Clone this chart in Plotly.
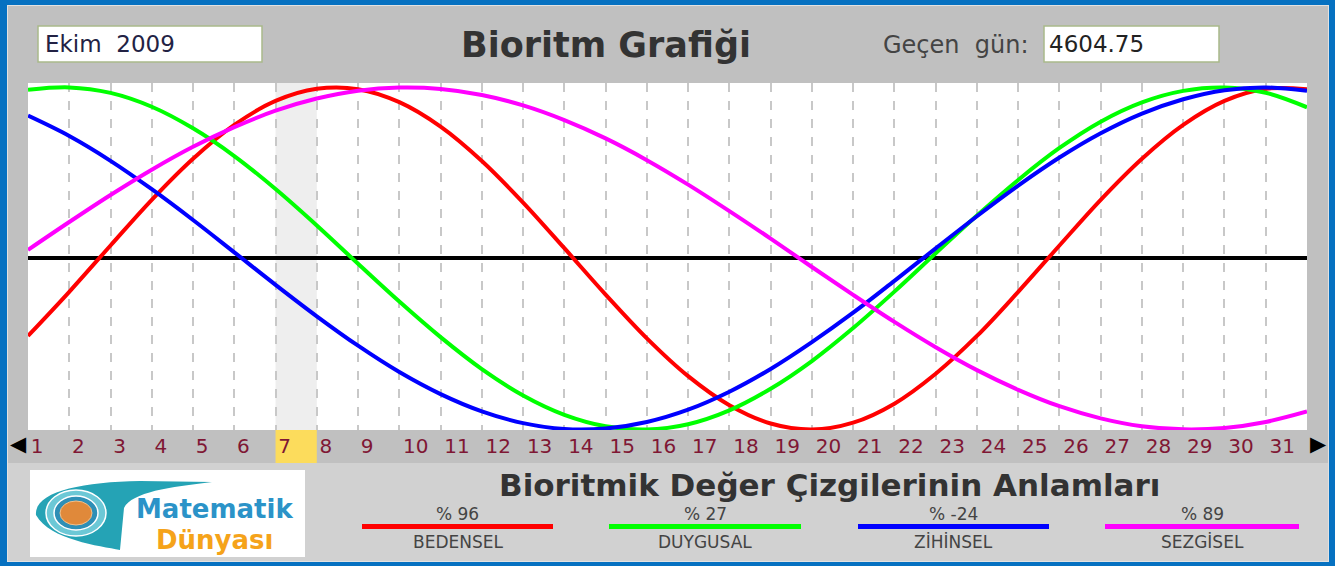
import plotly.graph_objects as go

# ---------------- data ----------------
MONTH_LABEL = "Ekim 2009"
ELAPSED_DAYS = "4604.75"
HIGHLIGHT_DAY = 7
DAY_LABELS = [str(d) for d in range(1, 32)]
# sample positions (day boundaries, 0 = start of day 1)
SAMPLE_POS = list(range(32))

BEDENSEL = [-45.3, -19.5, 7.6, 34.3, 58.3, 78.1, 92.1, 99.2, 99.0, 91.4, 77.1, 57.0,
            32.7, 6.0, -21.1, -46.7, -68.8, -85.8, -96.5, -100.0, -96.0, -84.9, -67.4,
            -45.3, -19.5, 7.6, 34.3, 58.3, 78.1, 92.1, 99.2, 99.0]
DUYGUSAL = [98.6, 100.0, 96.8, 88.7, 76.1, 59.9, 40.6, 19.3, -3.1, -25.2, -46.0, -64.7,
            -80.1, -91.4, -98.1, -100.0, -96.9, -88.8, -76.2, -60.0, -40.7, -19.4, 3.0,
            25.1, 45.9, 64.6, 80.0, 91.3, 98.0, 100.0, 96.9, 88.4]
ZIHINSEL = [83.5, 71.6, 57.1, 40.5, 22.5, 3.6, -15.4, -33.8, -51.0, -66.4, -79.3, -89.4,
            -96.3, -99.7, -99.4, -95.6, -88.4, -77.9, -64.6, -48.9, -31.7, -13.1, 5.9,
            24.7, 42.6, 59.0, 73.2, 84.7, 93.1, 98.4, 100.0, 98.0]
SEZGISEL = [5.0, 21.3, 37.1, 51.9, 65.3, 76.8, 86.4, 93.5, 98.1, 99.9, 99.1, 95.6,
            89.5, 80.9, 70.2, 57.5, 43.2, 27.7, 11.6, -5.0, -21.3, -37.1, -51.9, -65.3,
            -76.8, -86.4, -93.5, -98.1, -99.9, -99.1, -95.6, -89.5]

SERIES_NAMES = ["BEDENSEL", "DUYGUSAL", "ZİHİNSEL", "SEZGİSEL"]
SERIES_PCT = ["% 96", "% 27", "% -24", "% 89"]
SERIES_COLORS = ["#ff0000", "#00ff00", "#0000ff", "#ff00ff"]

# ---------------- geometry helpers ----------------
W, H = 1335, 566
L, R, T, B = 28, 1307, 83, 430
PW, PH = R - L, B - T


def px(x):
    return (x - L) / PW


def py(y):
    return (B - y) / PH


def rect(x0, y0, x1, y1, fill, line=None, lw=0):
    return dict(type="rect", xref="paper", yref="paper", layer="below",
                x0=px(x0), x1=px(x1), y0=py(y1), y1=py(y0),
                fillcolor=fill, line=dict(width=lw, color=line or fill))


def ellipse(x0, y0, x1, y1, fill, line=None, lw=0):
    return dict(type="circle", xref="paper", yref="paper", layer="below",
                x0=px(x0), x1=px(x1), y0=py(y1), y1=py(y0),
                fillcolor=fill, line=dict(width=lw, color=line or fill))


def P(x, y):
    return f"{px(x):.5f},{py(y):.5f}"


FONT = "DejaVu Sans"

fig = go.Figure()

series = [BEDENSEL, DUYGUSAL, ZIHINSEL, SEZGISEL]
for name, vals, col in zip(SERIES_NAMES, series, SERIES_COLORS):
    fig.add_trace(go.Scatter(x=SAMPLE_POS, y=vals, mode="lines", name=name,
                             xaxis="x2", yaxis="y",
                             line=dict(color=col, width=4, shape="spline"),
                             hoverinfo="skip"))

shapes = []
# outer panels
shapes.append(rect(7, 5, 1329, 562, "#e2e2e2"))
shapes.append(rect(8, 6, 1328, 463, "#c0c0c0"))
shapes.append(rect(8, 463, 1328, 561, "#d1d1d1"))
# plot area
shapes.append(rect(L, T, R, B, "#ffffff"))
# highlighted day column + label cell
shapes.append(dict(type="rect", xref="x", yref="paper", layer="below",
                   x0=HIGHLIGHT_DAY - 1, x1=HIGHLIGHT_DAY, y0=0, y1=1,
                   fillcolor="#eeeeee", line=dict(width=0)))
shapes.append(dict(type="rect", xref="x", yref="paper", layer="below",
                   x0=HIGHLIGHT_DAY - 1, x1=HIGHLIGHT_DAY, y0=py(463), y1=py(430),
                   fillcolor="#fcdc5c", line=dict(width=0)))
# input boxes
shapes.append(rect(38, 26, 262, 62, "#ffffff", "#a9b98a", 1.5))
shapes.append(rect(1044, 26, 1219, 62, "#ffffff", "#a9b98a", 1.5))
# logo
shapes.append(rect(30, 470, 305, 557, "#ffffff"))
swoosh = ("M " + P(36, 515) + " C " + P(34, 492) + " " + P(80, 482) + " " + P(140, 481)
          + " L " + P(212, 482) + " C " + P(170, 487) + " " + P(132, 492) + " " + P(124, 508)
          + " L " + P(120, 550) + " C " + P(100, 546) + " " + P(50, 540) + " " + P(36, 515) + " Z")
shapes.append(dict(type="path", xref="paper", yref="paper", layer="below", path=swoosh,
                   fillcolor="#25a3b5", line=dict(width=0)))
shapes.append(ellipse(46, 490, 106, 536, "#6cc8d6", "#ffffff", 1.5))
shapes.append(ellipse(54, 496, 98, 530, "#2e8fb6", "#ffffff", 1.5))
shapes.append(ellipse(60, 501, 92, 525, "#e0893a", "#f3c08a", 1))
# legend swatches
legend_x = [(362, 553), (609, 801), (858, 1049), (1105, 1299)]
for (x0, x1), col in zip(legend_x, SERIES_COLORS):
    shapes.append(dict(type="line", xref="paper", yref="paper",
                       x0=px(x0), x1=px(x1), y0=py(526.5), y1=py(526.5),
                       line=dict(color=col, width=5)))

ann = []


def text(x, y, s, size, color="#333333", xanchor="center", bold=False, family=FONT):
    ann.append(dict(xref="paper", yref="paper", x=px(x), y=py(y),
                    text=f"<b>{s}</b>" if bold else s, showarrow=False,
                    xanchor=xanchor, yanchor="middle",
                    font=dict(family=family, size=size, color=color)))


text(43, 44, MONTH_LABEL.replace(" ", "\u00a0\u00a0"), 23, "#222244", xanchor="left")
text(606, 45, "Bioritm Grafiği", 35, "#333333", bold=True)
text(1031, 45, "Geçen\u00a0\u00a0gün:", 24, "#444444", xanchor="right")
text(1047, 44, ELAPSED_DAYS, 23, "#222222", xanchor="left")
text(18, 444, "◀", 21, "#000000")
text(1318, 444, "▶", 21, "#000000")
text(830, 485, "Bioritmik Değer Çizgilerinin Anlamları", 31, "#333333", bold=True)
for (x0, x1), pct, nm in zip(legend_x, SERIES_PCT, SERIES_NAMES):
    c = (x0 + x1) / 2
    text(c, 514, pct, 17, "#444444")
    text(c, 542, nm, 17, "#444444")
text(214, 509, "Matematik", 26, "#2b93c8", bold=True)
text(214, 540, "Dünyası", 26, "#f5a31a", bold=True)

tickvals = [i + (0.22 if len(s) == 1 else 0.40) for i, s in enumerate(DAY_LABELS)]

fig.update_layout(
    width=W, height=H, autosize=False,
    margin=dict(l=L, r=W - R, t=T, b=H - B, pad=0),
    paper_bgcolor="#0671c1", plot_bgcolor="rgba(0,0,0,0)",
    showlegend=False,
    shapes=shapes, annotations=ann,
    xaxis=dict(range=[0, 31], showgrid=True, dtick=1, tick0=0,
               gridcolor="#c8c8c8", gridwidth=2, griddash="9px,9px",
               showticklabels=False, ticks="", zeroline=False, showline=False,
               fixedrange=True),
    xaxis2=dict(range=[0, 31], overlaying="x", anchor="y", side="bottom",
                tickmode="array", tickvals=tickvals, ticktext=DAY_LABELS,
                ticks="", showgrid=False, zeroline=False, showline=False,
                ticklabelstandoff=2,
                tickfont=dict(family=FONT, size=20, color="#7f1734"),
                fixedrange=True),
    yaxis=dict(range=[-100.3, 102.6], showgrid=False, showticklabels=False,
               ticks="", zeroline=True, zerolinecolor="#000000", zerolinewidth=4,
               showline=False, fixedrange=True),
)

fig.write_html("out.html", config={"displayModeBar": False},
               post_script="document.body.style.margin='0px';")
